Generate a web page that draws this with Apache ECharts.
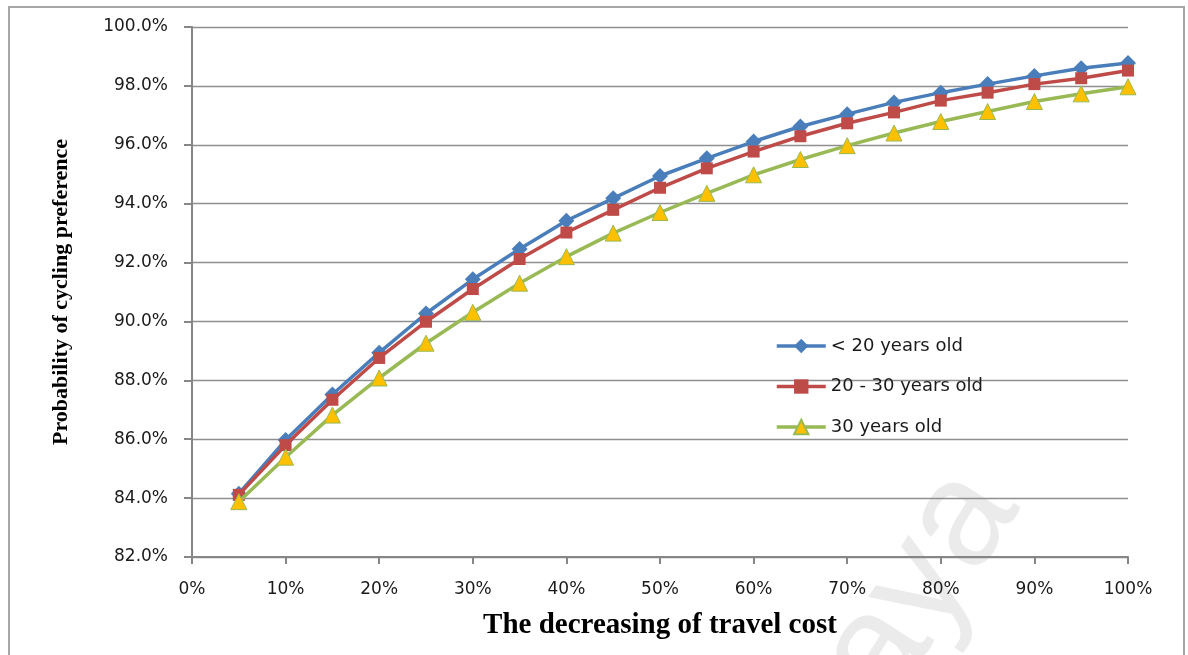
<!DOCTYPE html>
<html>
<head>
<meta charset="utf-8">
<title>Probability of cycling preference</title>
<script src="https://cdn.jsdelivr.net/npm/echarts@6/dist/echarts.min.js"></script>
<style>
  html, body { margin: 0; padding: 0; background: #ffffff; }
  #chart { width: 1188px; height: 655px; }
</style>
</head>
<body>
<div id="chart"></div>
<script>
// Decrease in travel cost (%)
var costDecrease = [5, 10, 15, 20, 25, 30, 35, 40, 45, 50, 55, 60, 65, 70, 75, 80, 85, 90, 95, 100];

// Probability of choosing the bicycle (%), by age group
var under20 = [84.15, 85.97, 87.52, 88.94, 90.27, 91.43, 92.46, 93.42, 94.18, 94.94,
               95.54, 96.11, 96.62, 97.04, 97.44, 97.77, 98.06, 98.34, 98.60, 98.78];
var age20to30 = [84.11, 85.80, 87.34, 88.76, 89.99, 91.10, 92.12, 93.02, 93.79, 94.54,
                 95.20, 95.77, 96.29, 96.73, 97.10, 97.50, 97.77, 98.06, 98.26, 98.52];
var age30 = [83.88, 85.39, 86.82, 88.08, 89.26, 90.31, 91.30, 92.20, 93.00, 93.70,
             94.35, 94.98, 95.50, 95.97, 96.40, 96.79, 97.13, 97.47, 97.73, 97.97];

var seriesNames = ['< 20 years old', '20 - 30 years old', '30 years old'];

function pairs(ys) {
  return costDecrease.map(function (x, i) { return [x, ys[i]]; });
}

var tickFont = { fontFamily: 'DejaVu Sans', fontSize: 17, color: '#1a1a1a' };
var axisGray = '#868686';

var chart = echarts.init(document.getElementById('chart'), null, { renderer: 'canvas' });

chart.setOption({
  backgroundColor: '#ffffff',
  animation: false,
  graphic: [
    {
      type: 'rect',
      z: -2,
      shape: { x: 9, y: 7, width: 1175, height: 700 },
      style: { fill: 'none', stroke: '#a6a6a6', lineWidth: 2 }
    },
    {
      type: 'text',
      z: -1,
      x: 986,
      y: 485,
      rotation: 57 * Math.PI / 180,
      style: {
        text: 'Malaya',
        fontFamily: 'Liberation Sans',
        fontSize: 150,
        fill: '#ebebeb',
        align: 'right',
        verticalAlign: 'middle'
      }
    }
  ],
  grid: { left: 192, right: 60, top: 27, bottom: 98, containLabel: false },
  legend: {
    orient: 'vertical',
    left: 775,
    top: 336,
    padding: 0,
    itemWidth: 49,
    itemHeight: 18,
    itemGap: 20.5,
    data: seriesNames,
    lineStyle: { width: 3.5 },
    textStyle: { fontFamily: 'DejaVu Sans', fontSize: 18, lineHeight: 20, color: '#1a1a1a' }
  },
  xAxis: {
    type: 'value',
    min: 0,
    max: 100,
    interval: 10,
    name: 'The decreasing of travel cost',
    nameLocation: 'middle',
    nameGap: 54,
    nameTextStyle: { fontFamily: 'Liberation Serif', fontWeight: 'bold', fontSize: 29, color: '#000000' },
    axisLine: { show: true, onZero: false, lineStyle: { color: axisGray, width: 2 } },
    axisTick: { show: true, inside: false, length: 7, lineStyle: { color: axisGray, width: 2 } },
    axisLabel: Object.assign({ margin: 24, formatter: function (v) { return v + '%'; } }, tickFont),
    splitLine: { show: false }
  },
  yAxis: {
    type: 'value',
    min: 82,
    max: 100,
    interval: 2,
    name: 'Probability of cycling preference',
    nameLocation: 'middle',
    nameGap: 120,
    nameTextStyle: { fontFamily: 'Liberation Serif', fontWeight: 'bold', fontSize: 22, color: '#000000' },
    axisLine: { show: true, lineStyle: { color: axisGray, width: 2 } },
    axisTick: { show: true, inside: false, length: 8, lineStyle: { color: axisGray, width: 2 } },
    axisLabel: Object.assign({ margin: 24, formatter: function (v) { return v.toFixed(1) + '%'; } }, tickFont),
    splitLine: { show: true, lineStyle: { color: '#8f8f8f', width: 1.3 } }
  },
  series: [
    {
      name: seriesNames[0],
      type: 'line',
      data: pairs(under20),
      symbol: 'diamond',
      symbolSize: 16,
      lineStyle: { color: '#4a7ebb', width: 3.5 },
      itemStyle: { color: '#4a7ebb' },
      z: 3
    },
    {
      name: seriesNames[1],
      type: 'line',
      data: pairs(age20to30),
      symbol: 'rect',
      symbolSize: 12,
      lineStyle: { color: '#be4b48', width: 3.5 },
      itemStyle: { color: '#be4b48' },
      z: 4
    },
    {
      name: seriesNames[2],
      type: 'line',
      data: pairs(age30),
      symbol: 'triangle',
      symbolSize: 16,
      lineStyle: { color: '#98b954', width: 3.5 },
      itemStyle: { color: '#ffc000', borderColor: '#98b954', borderWidth: 1 },
      z: 5
    }
  ]
});
</script>
</body>
</html>
